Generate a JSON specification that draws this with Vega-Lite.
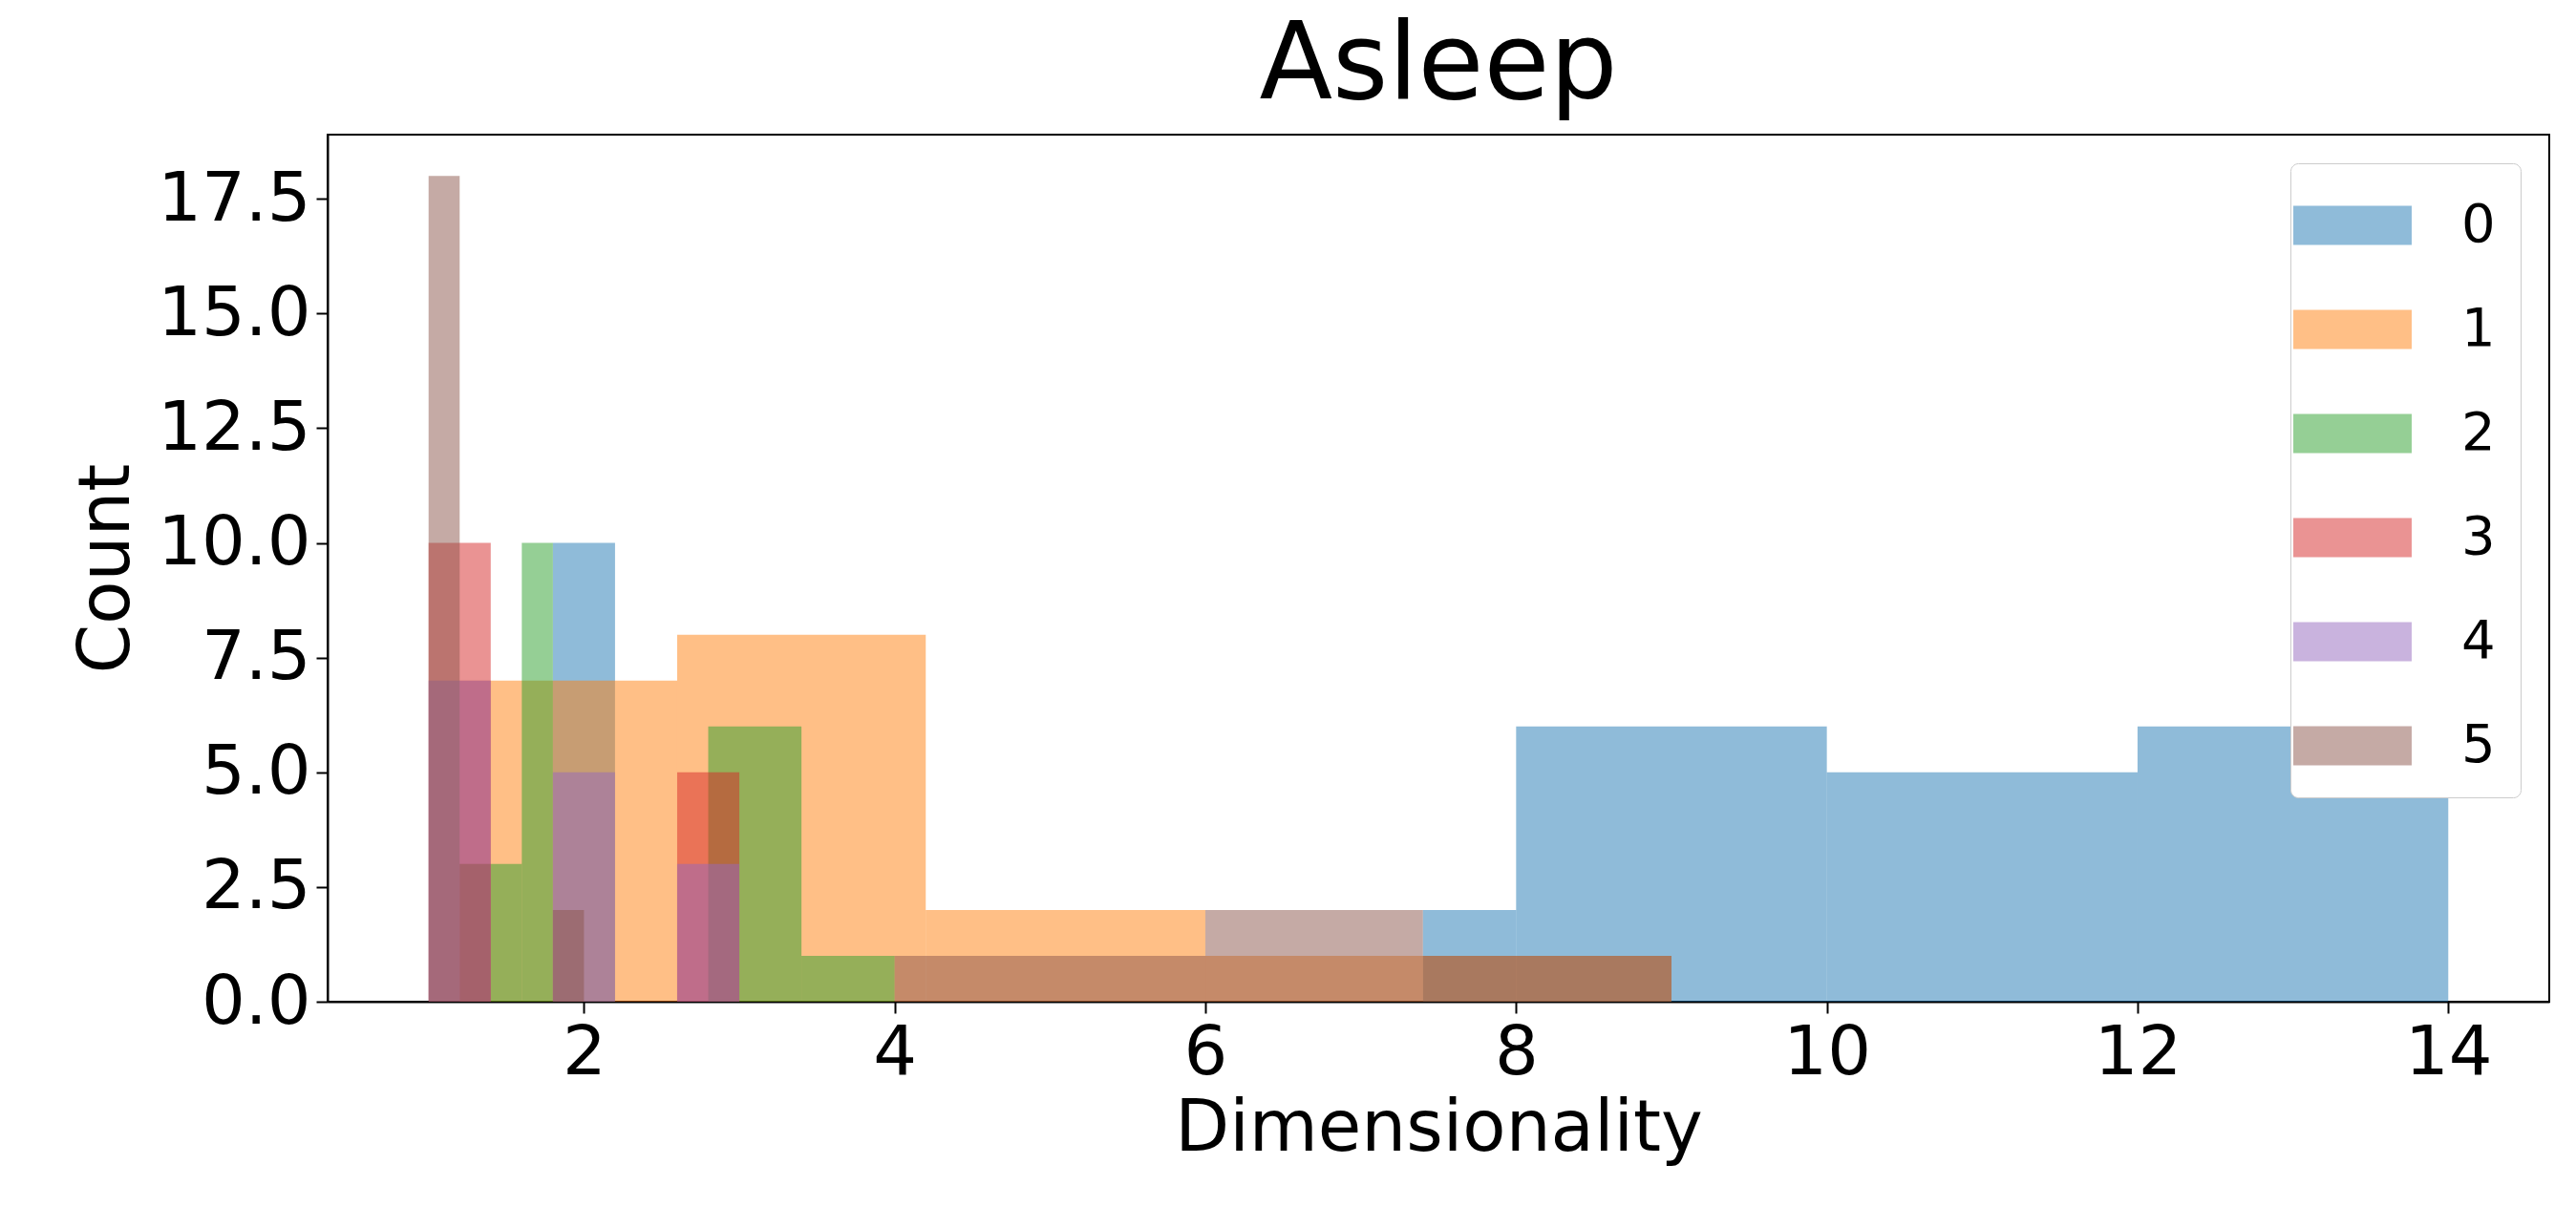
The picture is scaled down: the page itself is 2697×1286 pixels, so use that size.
{
  "$schema": "https://vega.github.io/schema/vega-lite/v6.json",
  "autosize": "none",
  "padding": {"left": 343, "top": 141, "right": 28, "bottom": 237},
  "width": 2326,
  "height": 908,
  "background": "white",
  "title": {"text": "Asleep", "fontSize": 112, "font": "DejaVu Sans", "fontWeight": "normal", "color": "black", "offset": 14},
  "config": {"view": {"stroke": "black", "strokeWidth": 2}},
  "data": {
    "values": [
      {"series": "0", "start": 1.8, "end": 2.2, "count": 10},
      {"series": "0", "start": 7.4, "end": 8, "count": 2},
      {"series": "0", "start": 8, "end": 10, "count": 6},
      {"series": "0", "start": 10, "end": 12, "count": 5},
      {"series": "0", "start": 12, "end": 14, "count": 6},
      {"series": "1", "start": 1.2, "end": 2.6, "count": 7},
      {"series": "1", "start": 2.6, "end": 4.2, "count": 8},
      {"series": "1", "start": 4.2, "end": 6, "count": 2},
      {"series": "1", "start": 6, "end": 9, "count": 1},
      {"series": "2", "start": 1.4, "end": 1.6, "count": 3},
      {"series": "2", "start": 1.6, "end": 1.8, "count": 10},
      {"series": "2", "start": 2.8, "end": 3.4, "count": 6},
      {"series": "2", "start": 3.4, "end": 4, "count": 1},
      {"series": "3", "start": 1, "end": 1.4, "count": 10},
      {"series": "3", "start": 2.6, "end": 3, "count": 5},
      {"series": "4", "start": 1, "end": 1.4, "count": 7},
      {"series": "4", "start": 1.8, "end": 2.2, "count": 5},
      {"series": "4", "start": 2.6, "end": 3, "count": 3},
      {"series": "5", "start": 1, "end": 1.2, "count": 18},
      {"series": "5", "start": 1.2, "end": 1.4, "count": 3},
      {"series": "5", "start": 1.8, "end": 2, "count": 2},
      {"series": "5", "start": 4, "end": 6, "count": 1},
      {"series": "5", "start": 6, "end": 7.4, "count": 2},
      {"series": "5", "start": 7.4, "end": 9, "count": 1}
    ]
  },
  "mark": {"type": "bar", "opacity": 0.5},
  "encoding": {
    "x": {
      "field": "start", "type": "quantitative",
      "scale": {"domain": [0.35, 14.65], "nice": false, "zero": false},
      "axis": {"title": "Dimensionality", "values": [2, 4, 6, 8, 10, 12, 14], "grid": false,
        "labelFontSize": 72, "titleFontSize": 74, "labelFont": "DejaVu Sans", "titleFont": "DejaVu Sans",
        "titleFontWeight": "normal", "labelColor": "black", "titleColor": "black",
        "tickSize": 12, "tickWidth": 2, "tickColor": "black", "domainColor": "black", "domainWidth": 2,
        "labelPadding": 6, "titlePadding": 8}
    },
    "x2": {"field": "end"},
    "y": {
      "field": "count", "type": "quantitative",
      "scale": {"domain": [0, 18.9], "nice": false},
      "axis": {"title": "Count", "values": [0, 2.5, 5, 7.5, 10, 12.5, 15, 17.5], "format": ".1f", "grid": false,
        "labelFontSize": 72, "titleFontSize": 74, "labelFont": "DejaVu Sans", "titleFont": "DejaVu Sans",
        "titleFontWeight": "normal", "labelColor": "black", "titleColor": "black",
        "tickSize": 12, "tickWidth": 2, "tickColor": "black", "domainColor": "black", "domainWidth": 2,
        "labelPadding": 6, "titlePadding": 14}
    },
    "y2": {"datum": 0},
    "color": {
      "field": "series", "type": "nominal",
      "scale": {"domain": ["0", "1", "2", "3", "4", "5"], "range": ["#1f77b4", "#ff7f0e", "#2ca02c", "#d62728", "#9467bd", "#8c564b"]},
      "legend": {"title": null, "orient": "top-right", "offset": 30,
        "symbolType": "M-1.6,-0.53H1.6V0.53H-1.6Z", "symbolSize": 6000, "symbolOpacity": 0.5, "symbolStrokeWidth": 0,
        "labelFontSize": 56, "labelFont": "DejaVu Sans", "labelColor": "black", "rowPadding": 42, "labelOffset": 75,
        "fillColor": "white", "strokeColor": "#cccccc", "cornerRadius": 8, "padding": 26}
    },
    "order": {"field": "series"}
  }
}
